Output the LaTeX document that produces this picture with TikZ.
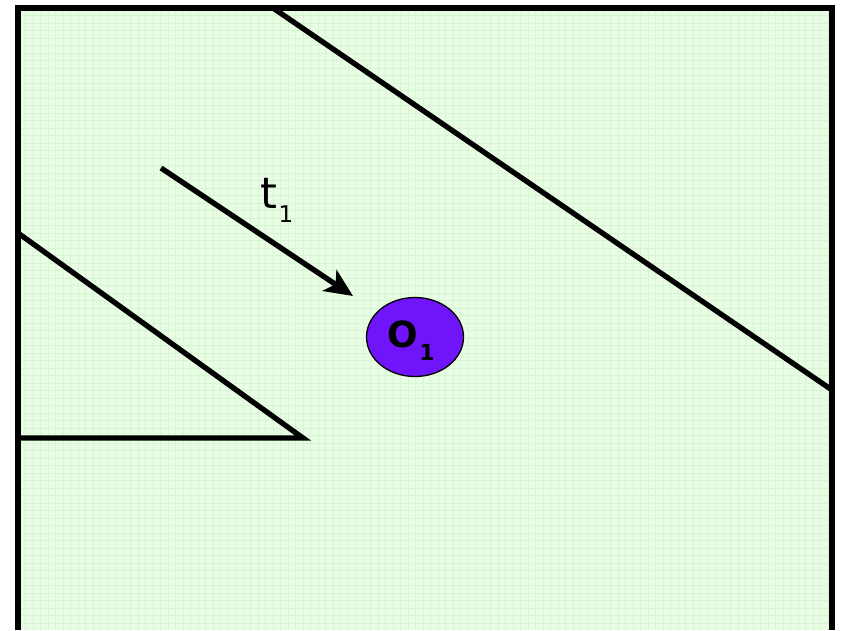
\documentclass[tikz,border=0pt]{standalone}
\usepackage{fontspec}
\setmainfont{DejaVu Sans}
\usetikzlibrary{arrows.meta,shapes.geometric}
\definecolor{bg}{RGB}{232,253,228}
\definecolor{gridc}{RGB}{215,245,212}
\definecolor{obj}{RGB}{112,20,250}
\tikzset{
  wall/.style={line width=5.3pt,black},
  motion/.style={line width=5.3pt,black,-{Stealth[length=28pt,width=25pt,inset=7pt]}},
  object/.style={ellipse,draw=black,line width=1.3pt,fill=obj,minimum width=97pt,minimum height=79pt,inner sep=0pt},
  lbl/.style={inner sep=0pt,text=black}
}
\begin{document}
\begin{tikzpicture}[x=1pt,y=-1pt]
\useasboundingbox (0,0) rectangle (842,630);
\fill[white] (0,0) rectangle (842,630);
\fill[bg] (18,8) rectangle (832,630);
\draw[gridc,line width=0.5pt,step=7.5pt,shift={(18,8)}] (0,0) grid (814,622);
% frame
\draw[wall] (18,630) -- (18,8) -- (832,8) -- (832,630);
% walls
\coordinate (a1) at (273,8);
\coordinate (a2) at (832,390);
\draw[wall] (a1) -- (a2);
\coordinate (b1) at (18,233);
\coordinate (b2) at (303,438);
\coordinate (b3) at (18,438);
\draw[wall] (b1) -- (b2) -- (b3);
% object
\node[object] (o1) at (415,337) {};
\node[lbl,font=\bfseries\fontsize{36}{36}\selectfont] (otxt) at (403,334) {O};
\node[lbl,font=\bfseries\fontsize{22}{22}\selectfont] (osub) at (427,352) {1};
% motion
\coordinate (m1) at (161,168);
\coordinate (m2) at (353,296);
\draw[motion] (m1) -- (m2);
\node[lbl,font=\fontsize{43}{43}\selectfont] (t) at (269,193) {t};
\node[lbl,font=\fontsize{23}{23}\selectfont] (tsub) at (286,214) {1};
\end{tikzpicture}
\end{document}
